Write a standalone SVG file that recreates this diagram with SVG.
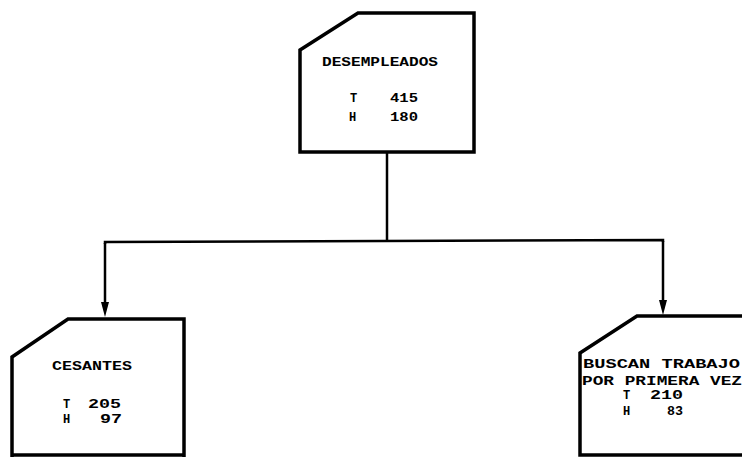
<svg xmlns="http://www.w3.org/2000/svg" width="742" height="457" viewBox="0 0 742 457">
<style>
.box{fill:#fff;stroke:#000;stroke-width:3.5;stroke-linejoin:miter}
.con{fill:none;stroke:#000;stroke-width:2.5}
text{font-family:"Liberation Mono","DejaVu Sans Mono",monospace;font-weight:bold;font-size:12px;fill:#000}
</style>
<rect width="742" height="457" fill="#fff"/>
<g id="connectors">
<line class="con" x1="387" y1="152" x2="387" y2="241"/>
<polyline class="con" points="105,244 105,242 663,240 663,242"/>
<line class="con" x1="105" y1="243" x2="105" y2="305"/>
<line class="con" x1="663" y1="241" x2="663" y2="303"/>
<path d="M101,302 L109,302 L105,317 Z" fill="#000"/>
<path d="M659,300 L667,300 L663,315 Z" fill="#000"/>
</g>
<g id="desempleados">
<path class="box" d="M300,152 L300,50 L358,13 L474,13 L474,152 Z"/>
<text x="322" y="66" textLength="116" lengthAdjust="spacingAndGlyphs">DESEMPLEADOS</text>
<text x="350" y="102">T</text>
<text x="390" y="102" textLength="28" lengthAdjust="spacingAndGlyphs">415</text>
<text x="349" y="121">H</text>
<text x="390" y="121" textLength="28" lengthAdjust="spacingAndGlyphs">180</text>
</g>
<g id="cesantes">
<path class="box" d="M12,458 L12,357 L68,319 L184,319 L184,458"/>
<line class="box" x1="12" y1="455" x2="184" y2="455"/>
<text x="52" y="370" textLength="80" lengthAdjust="spacingAndGlyphs">CESANTES</text>
<text x="63" y="408">T</text>
<text x="88" y="408" textLength="33" lengthAdjust="spacingAndGlyphs">205</text>
<text x="63" y="423">H</text>
<text x="100" y="423" textLength="22" lengthAdjust="spacingAndGlyphs">97</text>
</g>
<g id="buscan">
<path class="box" d="M745,316 L637,316 L580,353 L580,455 L745,455"/>
<text x="583" y="368" textLength="157" lengthAdjust="spacingAndGlyphs">BUSCAN TRABAJO</text>
<text x="582" y="385" textLength="160" lengthAdjust="spacingAndGlyphs">POR PRIMERA VEZ</text>
<text x="623" y="399">T</text>
<text x="650" y="399" textLength="33" lengthAdjust="spacingAndGlyphs">210</text>
<text x="623" y="415">H</text>
<text x="667" y="415" textLength="16" lengthAdjust="spacingAndGlyphs">83</text>
</g>
</svg>
